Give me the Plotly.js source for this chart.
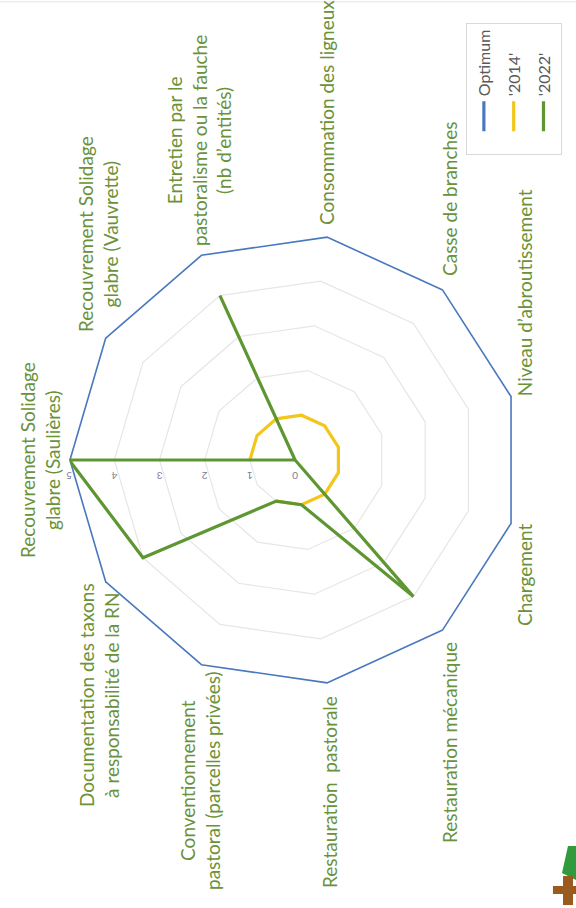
<!DOCTYPE html>
<html>
<head>
<meta charset="utf-8">
<script src="https://cdn.plot.ly/plotly-3.0.1.min.js"></script>
<style>
html,body{margin:0;padding:0;width:576px;height:908px;overflow:hidden;background:#ffffff;}
#wrap{position:absolute;left:0;top:0;width:908px;height:576px;transform-origin:0 0;transform:translate(0px,908px) rotate(-90deg);}
#chart{width:908px;height:576px;}
</style>
</head>
<body>
<div id="wrap"><div id="chart"></div></div>
<script>
// Axes of the radar, clockwise from the top (original orientation)
const categories = [
  "Recouvrement Solidage<br>glabre (Saulières)",
  "Recouvrement Solidage<br>glabre (Vauvrette)",
  "Entretien par le<br>pastoralisme ou la fauche<br>(nb d’entités)",
  "Consommation des ligneux",
  "Casse de branches",
  "Niveau d’abroutissement",
  "Chargement",
  "Restauration mécanique",
  "Restauration  pastorale",
  "Conventionnement<br>pastoral (parcelles privées)",
  "Documentation des taxons<br>à responsabilité de la RN"
];
const optimum = [5, 5, 5, 5, 5, 5, 5, 5, 5, 5, 5];
const values2014 = [1, 1, 1, 1, 1, 1, 1, 1, 1, 1, null];
const values2022 = [5, 0, 4, 0, 0, 0, 0, 4, 1, 1, 4];
const seriesNames = ["Optimum", "'2014'", "'2022'"];
const seriesColors = ["#4a78be", "#f2c61a", "#5e9632"];
const radialTicks = [0, 1, 2, 3, 4, 5];

function closeLoop(a) { return a.concat([a[0]]); }
const thetaClosed = closeLoop(categories);

const seriesValues = [optimum, values2014, values2022];
const traces = seriesValues.map((vals, i) => ({
  type: "scatterpolar",
  mode: "lines",
  r: closeLoop(vals),
  theta: thetaClosed,
  name: seriesNames[i],
  legendgroup: "g" + i,
  connectgaps: false,
  line: {color: seriesColors[i], width: 3.2},
  hoverinfo: "skip"
}));

// Axis labels placed like in the source chart (centred blocks, wider gap);
// the two bottom ones stay on the angular axis itself.
const labelPlacement = {     // [x, y, xanchor] in paper units
  0: [0.4934, 0.9306, "center"],
  1: [0.7423, 0.8299, "center"],
  2: [0.8458, 0.6545, "center"],
  3: [0.7500, 0.4323, "left"],
  4: [0.6938, 0.2188, "left"],
  7: [0.2952, 0.2188, "right"],
  8: [0.2357, 0.4271, "right"],
  9: [0.1399, 0.6528, "center"],
  10: [0.2346, 0.8281, "center"]
};
const angularText = categories.map((c, i) => (i in labelPlacement) ? "" : c);
const labelFont = {size: 19, color: "#6b9238", family: "Lato, 'Open Sans', sans-serif"};
const labelAnnotations = Object.keys(labelPlacement).map(k => ({
  text: categories[k], xref: "paper", yref: "paper",
  x: labelPlacement[k][0], y: labelPlacement[k][1],
  xanchor: labelPlacement[k][2], yanchor: "middle", align: "center",
  showarrow: false, font: labelFont
}));

// small decorative logo (partly cut by the page edge) and page border
const decor = [
  {type: "path", xref: "paper", yref: "paper",
   path: "M 0.0683 0.0139 L 0.0683 0 L 0.0308 0 L 0.0385 0.0243 Z",
   fillcolor: "#2f9b3c", line: {width: 0}},
  {type: "rect", xref: "paper", yref: "paper", x0: 0.0154, x1: 0.0242, y0: 0, y1: 0.040,
   fillcolor: "#9b5a1e", line: {width: 0}},
  {type: "rect", xref: "paper", yref: "paper", x0: 0.0033, x1: 0.0352, y0: 0.0052, y1: 0.0226,
   fillcolor: "#9b5a1e", line: {width: 0}},
  {type: "line", xref: "paper", yref: "paper", x0: 0.998, x1: 0.998, y0: 0, y1: 1,
   line: {color: "#e4e4e4", width: 1}}
];

const layout = {
  width: 908,
  height: 576,
  margin: {l: 0, r: 0, t: 0, b: 0},
  paper_bgcolor: "#ffffff",
  font: {family: "Lato, 'Open Sans', sans-serif", color: "#6b9238"},
  showlegend: true,
  shapes: decor,
  annotations: labelAnnotations,
  legend: {
    x: 0.829, y: 0.191, xanchor: "left", yanchor: "top",
    bordercolor: "#d9d9d9", borderwidth: 1, bgcolor: "rgba(255,255,255,0)",
    font: {size: 16, color: "#595959", family: "Lato, sans-serif"},
    traceorder: "grouped", tracegroupgap: 6,
    indentation: 18
  },
  polar: {
    domain: {x: [0.2445, 0.7423], y: [0.0955, 0.880]},
    bgcolor: "#ffffff",
    gridshape: "linear",
    radialaxis: {
      range: [0, 5],
      tickvals: radialTicks,
      ticktext: radialTicks.map(String),
      angle: 90,
      side: "counterclockwise",
      showline: false,
      ticks: "outside",
      ticklen: 8,
      tickcolor: "rgba(0,0,0,0)",
      gridcolor: "#e6e6e6",
      gridwidth: 1.2,
      tickfont: {size: 10, color: "#7d7d98"}
    },
    angularaxis: {
      type: "category",
      categoryarray: categories,
      tickmode: "array",
      tickvals: categories,
      ticktext: angularText,
      rotation: 90,
      direction: "clockwise",
      showgrid: false,
      showline: false,
      ticks: "",
      tickfont: labelFont
    }
  }
};

Plotly.newPlot("chart", traces, layout, {displayModeBar: false, staticPlot: true});
</script>
</body>
</html>
